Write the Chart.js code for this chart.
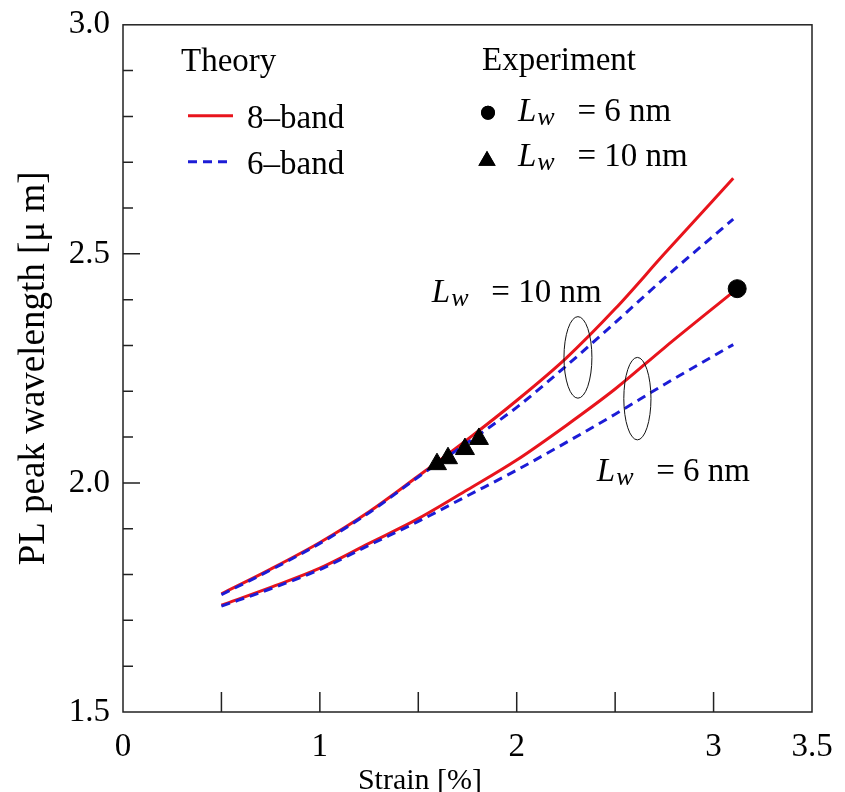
<!DOCTYPE html>
<html>
<head>
<meta charset="utf-8">
<script src="https://cdn.jsdelivr.net/npm/chart.js@4.4.0/dist/chart.umd.min.js"></script>
<style>
  html, body { margin: 0; padding: 0; background: #fff; }
  #wrap { width: 845px; height: 792px; position: relative; }
</style>
</head>
<body>
<div id="wrap"><canvas id="plChart"></canvas></div>
<script>
// strain values [%] where the theory curves were read
const strain = [0.5, 0.75, 1.0, 1.25, 1.5, 1.75, 2.0, 2.25, 2.5, 2.75, 3.1];

// theory, Lw = 10 nm
const lw10Band8 = [1.758, 1.812, 1.870, 1.937, 2.015, 2.095, 2.180, 2.272, 2.380, 2.500, 2.665];
const lw10Band6 = [1.756, 1.810, 1.868, 1.935, 2.013, 2.088, 2.165, 2.255, 2.350, 2.447, 2.576];

// theory, Lw = 6 nm
const lw6Band8 = [1.733, 1.772, 1.814, 1.868, 1.922, 1.985, 2.050, 2.125, 2.205, 2.295, 2.417];
const lw6Band6 = [1.731, 1.769, 1.811, 1.864, 1.916, 1.972, 2.028, 2.088, 2.150, 2.215, 2.302];

// experiment
const expLw6X = [3.12];
const expLw6Y = [2.424];
const expLw10X = [1.595, 1.651, 1.737, 1.808];
const expLw10Y = [2.041, 2.054, 2.074, 2.096];

// tick labels
const xTickLabels = [0, 1, 2, 3, 3.5];
const yTickLabels = [1.5, 2.0, 2.5, 3.0];

// grouping ellipses [centre x, centre y, half width, half height] in data units
const ellipses = [
  [2.311, 2.274, 0.071, 0.089],
  [2.613, 2.184, 0.069, 0.090]
];

// curve labels [x, y(baseline), text after Lw]
const curveLabels = [
  [1.569, 2.396, '= 10 nm'],
  [2.407, 2.004, '= 6 nm']
];

const RED = '#e8141c';
const BLUE = '#1c1cd6';
const FONT = "'Liberation Serif', 'Times New Roman', serif";

function pts(xs, ys) {
  return xs.map((x, i) => ({ x: x, y: ys[i] }));
}

// draws italic L with w lowered, then the rest of the text
function drawLw(ctx, x, y, rest, size) {
  ctx.fillStyle = '#000';
  ctx.textAlign = 'left';
  ctx.textBaseline = 'alphabetic';
  ctx.font = 'italic ' + size + 'px ' + FONT;
  ctx.fillText('L', x, y);
  const lw = ctx.measureText('L').width;
  ctx.font = 'italic ' + Math.round(size * 0.78) + 'px ' + FONT;
  ctx.fillText('w', x + lw + 1, y + 4);
  ctx.font = size + 'px ' + FONT;
  ctx.fillText(rest, x + size * 1.8, y);
}

const decorations = {
  id: 'decorations',
  afterDraw(chart) {
    const ctx = chart.ctx;
    const a = chart.chartArea;
    const xs = chart.scales.x;
    const ys = chart.scales.y;
    ctx.save();

    // frame
    ctx.strokeStyle = '#222';
    ctx.lineWidth = 1.5;
    ctx.strokeRect(a.left, a.top, a.right - a.left, a.bottom - a.top);

    // inner ticks
    ctx.beginPath();
    xs.ticks.forEach(t => {
      if (t.value <= xs.min || t.value >= xs.max) return;
      const px = xs.getPixelForValue(t.value);
      ctx.moveTo(px, a.bottom);
      ctx.lineTo(px, a.bottom - 20);
    });
    ys.ticks.forEach(t => {
      if (t.value <= ys.min + 1e-6 || t.value >= ys.max - 1e-6) return;
      const py = ys.getPixelForValue(t.value);
      const major = Math.abs(t.value * 2 - Math.round(t.value * 2)) < 1e-6;
      ctx.moveTo(a.left, py);
      ctx.lineTo(a.left + (major ? 17 : 10), py);
    });
    ctx.stroke();

    // ellipses
    ctx.lineWidth = 1;
    ctx.strokeStyle = '#111';
    ellipses.forEach(e => {
      const cx = xs.getPixelForValue(e[0]);
      const cy = ys.getPixelForValue(e[1]);
      const rx = Math.abs(xs.getPixelForValue(e[0] + e[2]) - cx);
      const ry = Math.abs(ys.getPixelForValue(e[1] + e[3]) - cy);
      ctx.beginPath();
      ctx.ellipse(cx, cy, rx, ry, 0, 0, Math.PI * 2);
      ctx.stroke();
    });

    // curve labels
    curveLabels.forEach(l => {
      drawLw(ctx, xs.getPixelForValue(l[0]), ys.getPixelForValue(l[1]), l[2], 33);
    });

    // legend: theory
    const lx = a.left, ly = a.top;
    ctx.fillStyle = '#000';
    ctx.font = '33px ' + FONT;
    ctx.textAlign = 'left';
    ctx.textBaseline = 'alphabetic';
    ctx.fillText('Theory', lx + 58, ly + 46);
    ctx.fillText('8\u2013band', lx + 124, ly + 103);
    ctx.fillText('6\u2013band', lx + 124, ly + 149);
    ctx.lineWidth = 3;
    ctx.strokeStyle = RED;
    ctx.beginPath();
    ctx.moveTo(lx + 65, ly + 91);
    ctx.lineTo(lx + 110, ly + 91);
    ctx.stroke();
    ctx.strokeStyle = BLUE;
    ctx.setLineDash([9, 6]);
    ctx.beginPath();
    ctx.moveTo(lx + 65, ly + 137);
    ctx.lineTo(lx + 110, ly + 137);
    ctx.stroke();
    ctx.setLineDash([]);

    // legend: experiment
    ctx.fillStyle = '#000';
    ctx.font = '33px ' + FONT;
    ctx.fillText('Experiment', lx + 359, ly + 45);
    Chart.helpers.drawPoint(ctx, { pointStyle: 'circle', radius: 7, rotation: 0 }, lx + 365, ly + 88);
    ctx.fill();
    Chart.helpers.drawPoint(ctx, { pointStyle: 'triangle', radius: 10, rotation: 0 }, lx + 364, ly + 136);
    ctx.fill();
    drawLw(ctx, lx + 395, ly + 96, '= 6 nm', 33);
    drawLw(ctx, lx + 395, ly + 141, '= 10 nm', 33);

    // x axis title
    ctx.fillStyle = '#000';
    ctx.font = '30px ' + FONT;
    ctx.textAlign = 'center';
    ctx.fillText('Strain [%]', 420, 789);

    ctx.restore();
  }
};

const lineBase = { showLine: true, pointRadius: 0, borderWidth: 3, cubicInterpolationMode: 'monotone' };

new Chart(document.getElementById('plChart'), {
  type: 'scatter',
  data: {
    datasets: [
      { label: 'Lw = 6 nm (exp)', data: pts(expLw6X, expLw6Y), pointStyle: 'circle', pointRadius: 9,
        backgroundColor: '#000', borderColor: '#000', order: 0 },
      { label: 'Lw = 10 nm (exp)', data: pts(expLw10X, expLw10Y), pointStyle: 'triangle', pointRadius: 11,
        backgroundColor: '#000', borderColor: '#000', order: 0 },
      Object.assign({ label: '6-band Lw=10', data: pts(strain, lw10Band6), borderColor: BLUE,
        borderDash: [9, 6], order: 1 }, lineBase),
      Object.assign({ label: '6-band Lw=6', data: pts(strain, lw6Band6), borderColor: BLUE,
        borderDash: [9, 6], order: 1 }, lineBase),
      Object.assign({ label: '8-band Lw=10', data: pts(strain, lw10Band8), borderColor: RED, order: 2 }, lineBase),
      Object.assign({ label: '8-band Lw=6', data: pts(strain, lw6Band8), borderColor: RED, order: 2 }, lineBase)
    ]
  },
  options: {
    responsive: true,
    maintainAspectRatio: false,
    animation: false,
    layout: { padding: { top: 22, right: 33, left: 0, bottom: 0 } },
    plugins: { legend: { display: false }, tooltip: { enabled: false } },
    scales: {
      x: {
        type: 'linear', min: 0, max: 3.5,
        grid: { display: false },
        border: { display: false },
        afterFit: s => { s.height = 80; },
        ticks: {
          stepSize: 0.5, autoSkip: false, maxRotation: 0, padding: 8, color: '#000',
          font: { family: FONT, size: 33 },
          callback: v => xTickLabels.some(t => Math.abs(t - v) < 1e-6) ? String(v) : ''
        }
      },
      y: {
        type: 'linear', min: 1.5, max: 3.0,
        grid: { display: false },
        border: { display: false },
        afterFit: s => { s.width = 123; },
        title: { display: true, text: 'PL peak wavelength [\u03bc m]', color: '#000',
          font: { family: FONT, size: 37 }, padding: { top: 12, bottom: 0 } },
        ticks: {
          stepSize: 0.1, autoSkip: false, padding: 5, color: '#000',
          font: { family: FONT, size: 33 },
          callback: v => yTickLabels.some(t => Math.abs(t - v) < 1e-6) ? v.toFixed(1) : ''
        }
      }
    }
  },
  plugins: [decorations]
});
</script>
</body>
</html>
